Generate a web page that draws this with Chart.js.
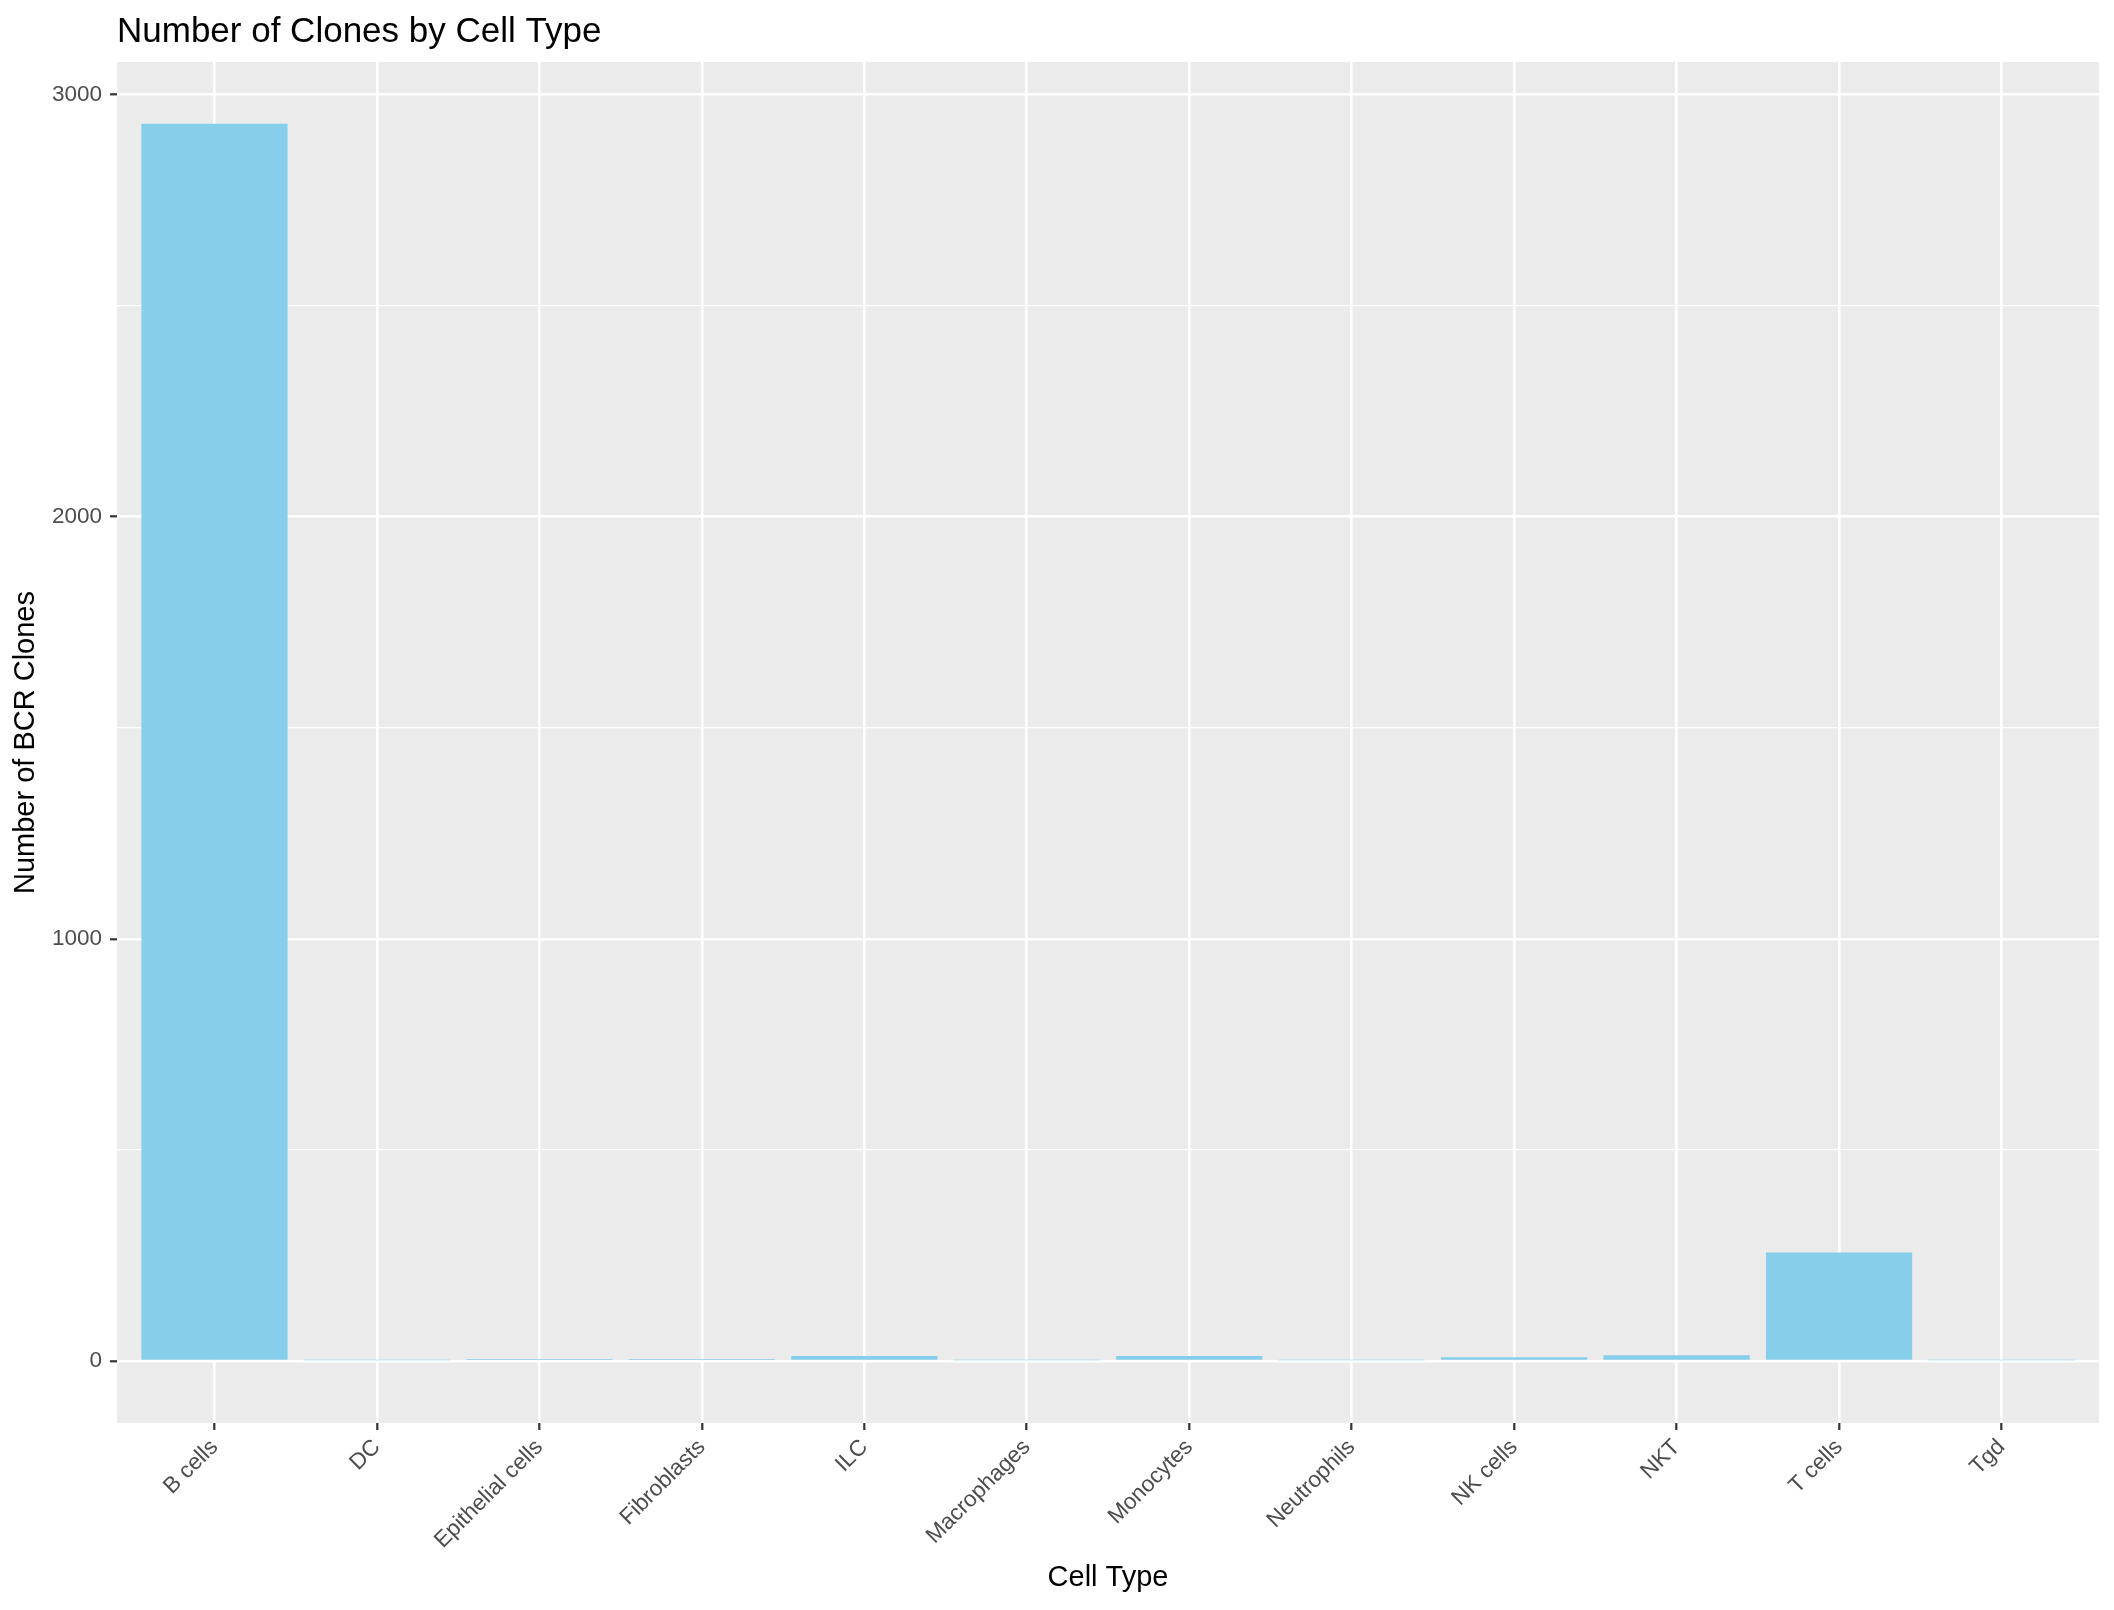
<!DOCTYPE html>
<html>
<head>
<meta charset="utf-8">
<script src="https://cdn.jsdelivr.net/npm/chart.js@4.4.1/dist/chart.umd.min.js"></script>
<style>
  body { margin: 0; background: #ffffff; }
  canvas { display: block; }
</style>
</head>
<body>
<canvas id="cloneChart" width="2114" height="1610" style="width:2114px;height:1610px"></canvas>
<script>
const cellTypes = [
  "B cells",
  "DC",
  "Epithelial cells",
  "Fibroblasts",
  "ILC",
  "Macrophages",
  "Monocytes",
  "Neutrophils",
  "NK cells",
  "NKT",
  "T cells",
  "Tgd",
];
const cloneCounts = [2930, 2, 5, 5, 12, 2, 12, 2, 9, 14, 257, 2];
const yTicks = [0, 500, 1000, 1500, 2000, 2500, 3000];
const yLabels = ["0", "", "1000", "", "2000", "", "3000"];

const FONT = "'Liberation Sans', Arial, Helvetica, sans-serif";
const PANEL_LEFT = 117;
const PANEL_BOTTOM = 1423;

// ggplot-style expansion: 5% of data range on y, 0.6 units on a discrete x
const yMax = Math.max(...cloneCounts);
const yPad = yMax * 0.05;

// grey panel behind the grid + title at panel left
const panelPlugin = {
  id: "panel",
  beforeDraw(chart) {
    const { ctx, chartArea } = chart;
    ctx.save();
    ctx.fillStyle = "#EBEBEB";
    ctx.fillRect(chartArea.left, chartArea.top, chartArea.right - chartArea.left, chartArea.bottom - chartArea.top);
    ctx.restore();
  },
  afterDraw(chart) {
    const { ctx, chartArea } = chart;
    ctx.save();
    ctx.fillStyle = "#000000";
    ctx.font = `35px ${FONT}`;
    ctx.textAlign = "left";
    ctx.textBaseline = "alphabetic";
    ctx.fillText("Number of Clones by Cell Type", chartArea.left, 42);
    ctx.restore();
  },
};

const ctx = document.getElementById("cloneChart").getContext("2d");
new Chart(ctx, {
  type: "bar",
  data: {
    datasets: [
      {
        label: "Number of BCR Clones",
        data: cloneCounts.map((v, i) => ({ x: i, y: v })),
        backgroundColor: "#87CEEB",
        borderWidth: 0,
        barPercentage: 0.9,
        categoryPercentage: 1.0,
      },
    ],
  },
  options: {
    responsive: false,
    devicePixelRatio: 1,
    animation: false,
    layout: { padding: { left: 0, right: 15, top: 62, bottom: 0 } },
    plugins: {
      legend: { display: false },
      tooltip: { enabled: false },
      title: { display: false },
    },
    scales: {
      x: {
        type: "linear",
        min: -0.6,
        max: cellTypes.length - 1 + 0.6,
        offset: false,
        afterBuildTicks(scale) {
          scale.ticks = cellTypes.map((_, i) => ({ value: i }));
        },
        afterFit(scale) {
          scale.height = 1610 - PANEL_BOTTOM;
        },
        border: { display: false },
        grid: {
          offset: false,
          color: "#FFFFFF",
          lineWidth: 2.6,
          drawTicks: true,
          tickLength: 7,
          tickColor: "#333333",
          tickWidth: 2.2,
        },
        ticks: {
          autoSkip: false,
          minRotation: 45,
          maxRotation: 45,
          padding: 4,
          color: "#4D4D4D",
          font: { family: FONT, size: 22.5 },
          callback: (v) => cellTypes[v] ?? "",
        },
        title: {
          display: true,
          text: "Cell Type",
          color: "#000000",
          font: { family: FONT, size: 29 },
          padding: { top: 4, bottom: 14.6 },
        },
      },
      y: {
        min: -yPad,
        max: yMax + yPad,
        afterBuildTicks(scale) {
          scale.ticks = yTicks.map((v) => ({ value: v }));
        },
        afterFit(scale) {
          scale.width = PANEL_LEFT;
        },
        border: { display: false },
        grid: {
          color: "#FFFFFF",
          lineWidth: (c) => (c.tick && c.tick.value % 1000 === 0 ? 2.6 : 1.3),
          drawTicks: true,
          tickLength: 7,
          tickColor: (c) => (c.tick && c.tick.value % 1000 === 0 ? "#333333" : "rgba(0,0,0,0)"),
          tickWidth: 2.2,
        },
        ticks: {
          padding: 8,
          color: "#4D4D4D",
          font: { family: FONT, size: 22.5 },
          callback: (v) => yLabels[yTicks.indexOf(v)] ?? "",
        },
        title: {
          display: true,
          text: "Number of BCR Clones",
          color: "#000000",
          font: { family: FONT, size: 29 },
          padding: { top: 8.6, bottom: 4 },
        },
      },
    },
  },
  plugins: [panelPlugin],
});
</script>
</body>
</html>
